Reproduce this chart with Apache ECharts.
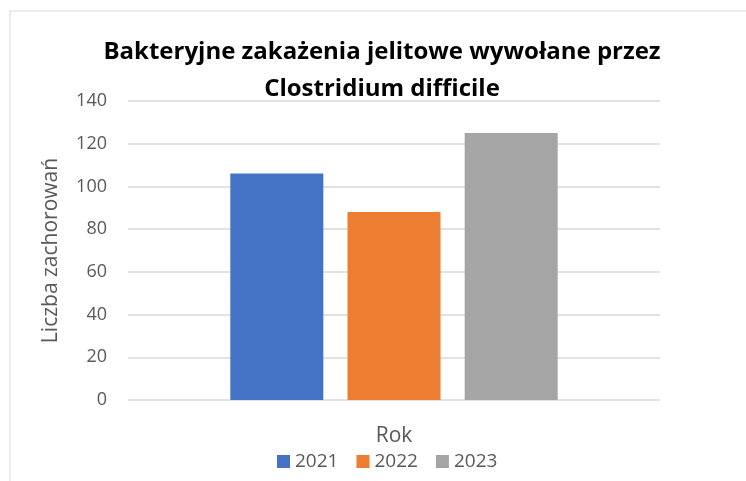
<!DOCTYPE html>
<html><head><meta charset="utf-8">
<script src="https://cdn.jsdelivr.net/npm/echarts@6/dist/echarts.min.js"></script>
<style>html,body{margin:0;padding:0;background:#fff}#c{width:746px;height:481px}</style>
</head><body><div id="c"></div>
<script>
const categories = [''];
const seriesNames = ['2021', '2022', '2023'];
const values2021 = [106];
const values2022 = [88];
const values2023 = [125];
const colors = ['#4472c4', '#ed7d31', '#a5a5a5'];
const yTicks = { min: 0, max: 140, interval: 20 };
const seriesValues = [values2021, values2022, values2023];

const chart = echarts.init(document.getElementById('c'));
const font = 'Open Sans, Noto Sans, sans-serif';
chart.setOption({
  animation: false,
  graphic: [{ type: 'rect', shape: { x: 10, y: 11, width: 760, height: 500 }, style: { fill: 'none', stroke: '#d9d9d9', lineWidth: 1 } }],
  title: {
    text: 'Bakteryjne zakażenia jelitowe wywołane przez\nClostridium difficile',
    left: 377, top: 29, textAlign: 'center',
    textStyle: { fontFamily: font, fontWeight: 'bold', fontSize: 24, color: '#000', lineHeight: 37 }
  },
  legend: {
    top: 447, left: 272, itemWidth: 13, itemHeight: 13, itemGap: 18, icon: 'rect',
    textStyle: { fontFamily: font, fontSize: 19, color: '#595959' }
  },
  grid: { left: 128, right: 86, top: 101, bottom: 81 },
  xAxis: {
    type: 'category', data: categories,
    name: 'Rok', nameLocation: 'middle', nameGap: 26,
    nameTextStyle: { fontFamily: font, fontSize: 21, color: '#595959' },
    axisLine: { show: false }, axisTick: { show: false }, axisLabel: { show: false }
  },
  yAxis: {
    type: 'value', min: yTicks.min, max: yTicks.max, interval: yTicks.interval,
    name: 'Liczba zachorowań', nameLocation: 'middle', nameGap: 66,
    nameTextStyle: { fontFamily: font, fontSize: 21, color: '#595959' },
    axisLine: { show: false }, axisTick: { show: false },
    axisLabel: { fontFamily: font, fontSize: 18, color: '#595959', margin: 21 },
    splitLine: { lineStyle: { color: '#d9d9d9', width: 1.5 } }
  },
  series: seriesNames.map((n, i) => ({
    name: n, type: 'bar', data: seriesValues[i], barWidth: 93, barGap: '26%',
    itemStyle: { color: colors[i] }
  }))
});
</script></body></html>
